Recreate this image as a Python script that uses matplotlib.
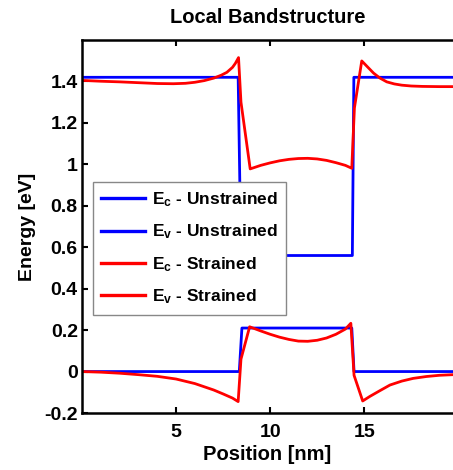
import matplotlib
matplotlib.use("Agg")
import matplotlib.pyplot as plt

plt.rcParams['font.family'] = ['Liberation Sans', 'DejaVu Sans']
plt.rcParams['font.weight'] = 'bold'
plt.rcParams['mathtext.fontset'] = 'custom'
plt.rcParams['mathtext.rm'] = 'Liberation Sans:bold'
plt.rcParams['mathtext.it'] = 'Liberation Sans:bold'
plt.rcParams['mathtext.bf'] = 'Liberation Sans:bold'

# ---- data ----
ec_unstr_x = [0, 8.30, 8.45, 14.37, 14.45, 19.72]
ec_unstr_y = [1.42, 1.42, 0.56, 0.56, 1.42, 1.42]
ev_unstr_x = [0, 8.36, 8.50, 14.34, 14.46, 19.72]
ev_unstr_y = [0.0, 0.0, 0.21, 0.21, 0.0, 0.0]

ec_str_x = [0, 1, 2, 3, 4, 4.86, 5.5, 6, 6.5, 7, 7.4, 7.7, 8.0, 8.15, 8.32, 8.45, 8.94,
            9.5, 10, 10.5, 11, 11.5, 12, 12.5, 13, 13.5, 14, 14.34, 14.48, 14.87,
            15.2, 15.5, 15.84, 16.2, 16.6, 17, 17.5, 18.1, 19, 19.72]
ec_str_y = [1.405, 1.401, 1.398, 1.394, 1.390, 1.389, 1.391, 1.396, 1.404, 1.416, 1.430,
            1.444, 1.468, 1.487, 1.515, 1.30, 0.978,
            0.995, 1.007, 1.017, 1.024, 1.028, 1.029, 1.026, 1.019, 1.008, 0.995, 0.981,
            1.272, 1.499,
            1.468, 1.440, 1.416, 1.398, 1.388, 1.382, 1.378, 1.376, 1.375, 1.375]

ev_str_x = [0, 1, 2, 3, 4, 5, 6, 7, 7.5, 8, 8.30, 8.45, 8.91,
            9.5, 10, 10.5, 11, 11.5, 12, 12.5, 13, 13.5, 14, 14.29, 14.46, 14.92,
            15.3, 15.8, 16.37, 17, 17.6, 18.3, 19, 19.72]
ev_str_y = [0.0, -0.003, -0.008, -0.015, -0.023, -0.036, -0.058, -0.089, -0.108, -0.128,
            -0.145, 0.06, 0.216,
            0.196, 0.180, 0.166, 0.155, 0.147, 0.146, 0.151, 0.162, 0.180, 0.205, 0.233,
            -0.018, -0.142,
            -0.120, -0.094, -0.065, -0.046, -0.033, -0.024, -0.018, -0.015]

legend_labels = [r'$E_c$ - Unstrained', r'$E_v$ - Unstrained',
                 r'$E_c$ - Strained', r'$E_v$ - Strained']
x_ticks = [5, 10, 15]
y_ticks = [-0.2, 0, 0.2, 0.4, 0.6, 0.8, 1.0, 1.2, 1.4]
y_tick_labels = ['-0.2', '0', '0.2', '0.4', '0.6', '0.8', '1', '1.2', '1.4']

fig = plt.figure(figsize=(4.53, 4.70), dpi=100)
ax = fig.add_axes([82 / 453, 57 / 470, 1 - 82 / 453, (413 - 40) / 470])

lw = 2.0
ax.plot(ec_unstr_x, ec_unstr_y, color='#0000ff', lw=lw, label=legend_labels[0])
ax.plot(ev_unstr_x, ev_unstr_y, color='#0000ff', lw=lw, label=legend_labels[1])
ax.plot(ec_str_x, ec_str_y, color='#ff0000', lw=lw, label=legend_labels[2])
ax.plot(ev_str_x, ev_str_y, color='#ff0000', lw=lw, label=legend_labels[3])

ax.set_xlim(0, 19.72)
ax.set_ylim(-0.2, 1.6)
ax.set_xticks(x_ticks)
ax.set_xticklabels([str(t) for t in x_ticks])
ax.set_yticks(y_ticks)
ax.set_yticklabels(y_tick_labels)
ax.tick_params(direction='in', length=4, width=1.5, labelsize=14, top=True, right=False)
ax.tick_params(axis='x', pad=8)
ax.tick_params(axis='y', pad=3)
for lab in ax.get_xticklabels() + ax.get_yticklabels():
    lab.set_fontweight('bold')
for s in ['left', 'bottom', 'top']:
    ax.spines[s].set_linewidth(1.8)
ax.spines['right'].set_visible(False)

ax.set_title('Local Bandstructure', fontsize=14.5, fontweight='bold', pad=12)
ax.set_xlabel('Position [nm]', fontsize=14.5, fontweight='bold', labelpad=3)
ax.set_ylabel('Energy [eV]', fontsize=14, fontweight='bold', labelpad=6)

leg = ax.legend(loc='upper left', bbox_to_anchor=(0.029, 0.62), fontsize=12.5,
                frameon=True, fancybox=False, framealpha=1, edgecolor='#888888',
                handlelength=2.5, borderpad=0.5, labelspacing=0.78, handletextpad=0.4,
                borderaxespad=0)
leg.get_frame().set_linewidth(1.0)
for line in leg.get_lines():
    line.set_linewidth(2.4)

fig.savefig('out.png', dpi=100)
